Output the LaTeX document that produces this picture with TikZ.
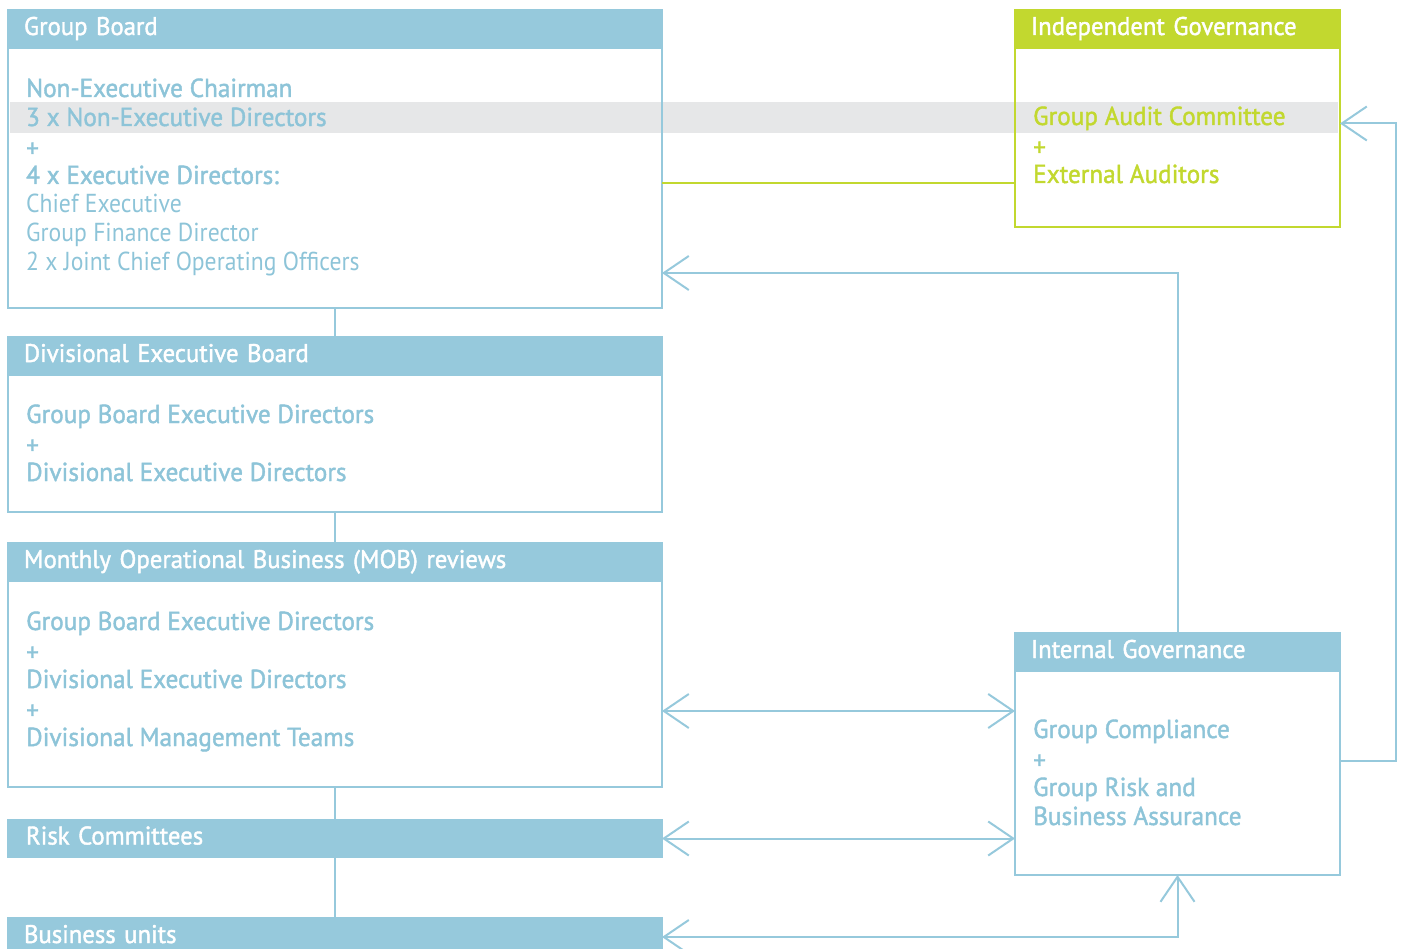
\documentclass[tikz,border=0pt]{standalone}
\usepackage{fontspec}
\setmainfont{PT Sans}[FakeStretch=0.91]
\newfontfamily\semifont{PT Sans}[FakeStretch=0.97, FakeBold=1.6]
\usetikzlibrary{arrows.meta,positioning}
\definecolor{govblue}{HTML}{96C9DC}
\definecolor{govtext}{HTML}{8DC4D8}
\definecolor{govgreen}{HTML}{C2D82F}
\definecolor{govgrey}{HTML}{E6E7E8}
\tikzset{
  headbar/.style={draw=govblue, fill=govblue, line width=2pt, outer sep=0pt,
    minimum width=654pt, minimum height=38pt, inner xsep=16pt, inner ysep=0pt,
    text width=622pt, align=left, text=white, text height=18pt, text depth=6pt,
    font=\semifont\fontsize{25.5}{28}\selectfont},
  bodybox/.style={draw=govblue, line width=2pt, outer sep=0pt, minimum width=654pt},
  bodyline/.style={anchor=base west, inner sep=0pt, text=govtext,
    font=\semifont\fontsize{26}{29}\selectfont},
  lightline/.style={bodyline, font=\rmfamily\fontsize{26}{29}\selectfont},
  conn/.style={govblue, line width=2pt},
}
\begin{document}
\begin{tikzpicture}[x=1pt, y=-1pt, >={Straight Barb[length=25pt,width=34pt]}]
                \useasboundingbox (0,0) rectangle (1402,949);
                \fill[govgrey] (10,102) rectangle (1338,133);
                \node[headbar, anchor=north west] (gbhead) at (8,10) {Group Board};
                \node[bodybox, minimum height=260pt, below=0pt of gbhead] (gbbody) {};
                \node[bodyline] (gbl1) at (26,97) {Non-Executive Chairman};
                \node[bodyline] (gbl2) at (26,126) {3 x Non-Executive Directors};
                \node[bodyline] (gbl3) at (26,157) {+};
                \node[bodyline] (gbl4) at (26,184) {4 x Executive Directors:};
                \node[lightline] (gbl5) at (26,213) {Chief Executive};
                \node[lightline] (gbl6) at (26,242) {Group Finance Director};
                \node[lightline] (gbl7) at (26,271) {2 x Joint Chief Operating Officers};
                \node[headbar, below=29pt of gbbody] (debhead) {Divisional Executive Board};
                \node[bodybox, minimum height=137pt, below=0pt of debhead] (debbody) {};
                \node[bodyline] (debl1) at (26,423) {Group Board Executive Directors};
                \node[bodyline] (debl2) at (26,454) {+};
                \node[bodyline] (debl3) at (26,481) {Divisional Executive Directors};
                \node[headbar, below=31pt of debbody] (mobhead) {Monthly Operational Business (MOB) reviews};
                \node[bodybox, minimum height=206pt, below=0pt of mobhead] (mobbody) {};
                \node[bodyline] (mobl1) at (26,630) {Group Board Executive Directors};
                \node[bodyline] (mobl2) at (26,661) {+};
                \node[bodyline] (mobl3) at (26,688) {Divisional Executive Directors};
                \node[bodyline] (mobl4) at (26,719) {+};
                \node[bodyline] (mobl5) at (26,746) {Divisional Management Teams};
                \node[headbar, minimum height=37pt, inner xsep=18pt, text width=618pt,
                      below=33pt of mobbody] (risk) {Risk Committees};
                \node[headbar, below=61pt of risk] (bus) {Business units};
                \draw[conn] (gbbody.south) -- (debhead.north);
                \draw[conn] (debbody.south) -- (mobhead.north);
                \draw[conn] (mobbody.south) -- (risk.north);
                \draw[conn] (risk.south) -- (bus.north);
                \node[headbar, draw=govgreen, fill=govgreen, minimum width=325pt, text width=293pt,
                      anchor=north west] (indhead) at (1015,10) {Independent Governance};
                \node[bodybox, draw=govgreen, minimum width=325pt, minimum height=179pt,
                      below=0pt of indhead] (indbody) {};
                \node[bodyline, text=govgreen] (indl1) at (1033,125) {Group Audit Committee};
                \node[bodyline, text=govgreen] (indl2) at (1033,156) {+};
                \node[bodyline, text=govgreen] (indl3) at (1033,183) {External Auditors};
                \node[headbar, minimum width=325pt, text width=293pt,
                      anchor=north west] (inthead) at (1015,633) {Internal Governance};
                \node[bodybox, minimum width=325pt, minimum height=204pt, below=0pt of inthead] (intbody) {};
                \node[bodyline] (intl1) at (1033,738) {Group Compliance};
                \node[bodyline] (intl2) at (1033,769) {+};
                \node[bodyline] (intl3) at (1033,796) {Group Risk and};
                \node[bodyline] (intl4) at (1033,825) {Business Assurance};
                \coordinate (gbout) at ([yshift=-5pt]gbbody.east);
                \draw[govgreen, line width=2pt] (gbout) -- (gbout -| indbody.west);
                \draw[conn, ->] (inthead.north) |- ([yshift=35pt]gbbody.south east);
                \draw[conn, ->] ([yshift=12pt]intbody.east) -- ++(56,0) |- ([yshift=14pt]indbody.east);
                \coordinate (mobout) at ([yshift=-27pt]mobbody.east);
                \draw[conn, <->] (mobout) -- (mobout -| intbody.west);
                \draw[conn, <->] (risk.east) -- (risk.east -| intbody.west);
                \draw[conn, <->] (bus.east) -| (intbody.south);
            \end{tikzpicture}
\end{document}
